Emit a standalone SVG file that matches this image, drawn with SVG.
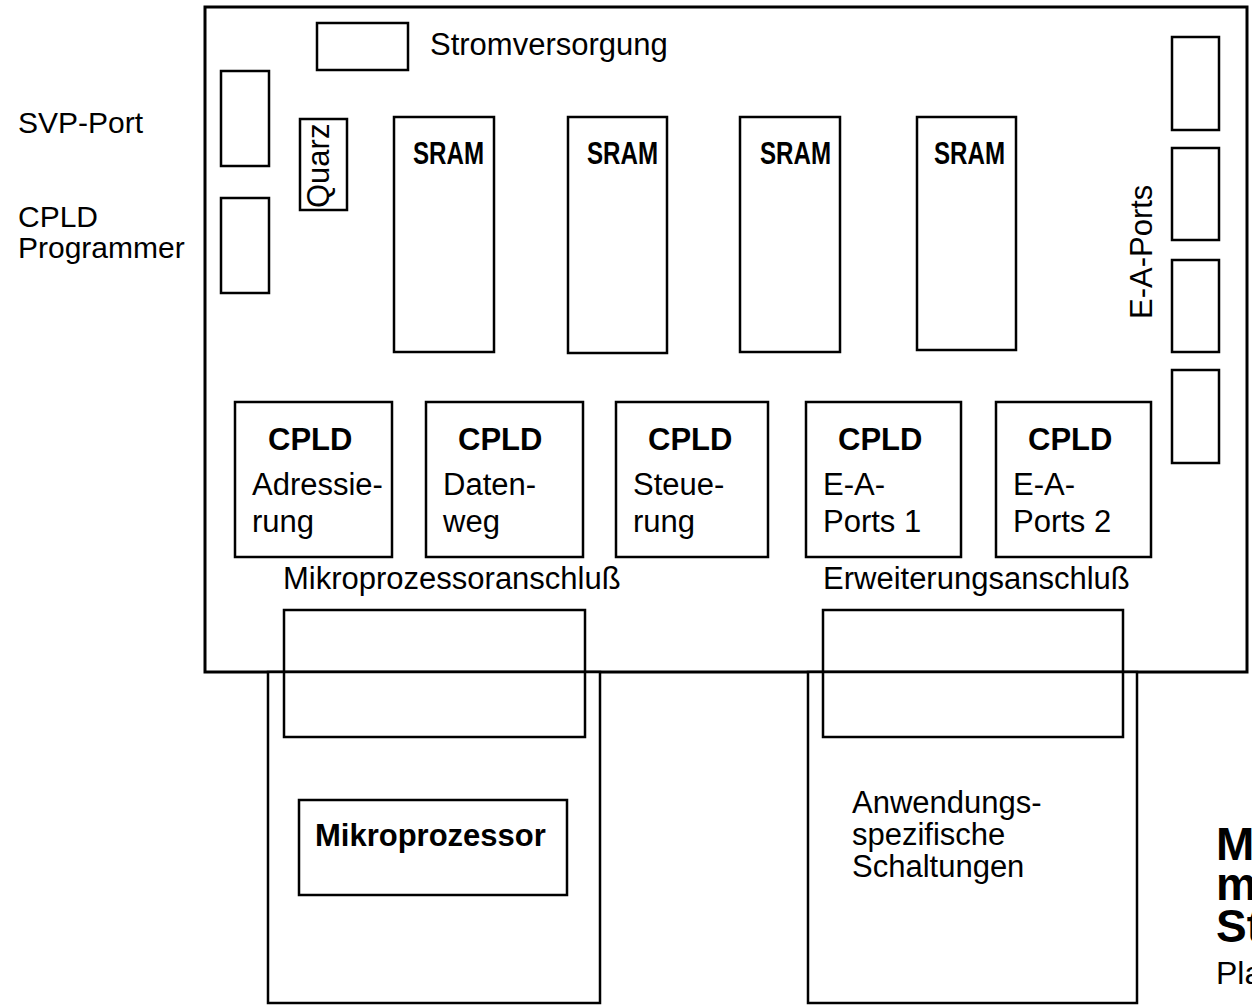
<svg xmlns="http://www.w3.org/2000/svg" width="1252" height="1008" viewBox="0 0 1252 1008">
<style>
.b{fill:#fff;stroke:#000;stroke-width:2.5}
.n{fill:none;stroke:#000;stroke-width:2.5}
.board{fill:#fff;stroke:#000;stroke-width:3}
text{font-family:"Liberation Sans",Arial,sans-serif;fill:#000}
.r{font-size:31px}
.l{font-size:30px}
.bd{font-size:31px;font-weight:bold}
.sr{font-size:32px;font-weight:bold}
</style>
<g id="board"><rect class="board" x="205" y="7" width="1042" height="665"/></g>
<g id="card-mikroprozessor">
<rect class="b" x="268" y="672" width="332" height="331"/>
<rect class="n" x="299" y="800" width="268" height="95"/>
<text class="bd" x="315" y="846">Mikroprozessor</text>
</g>
<g id="card-anwendung">
<rect class="b" x="808" y="672" width="329" height="331"/>
<text class="r" x="852" y="813">Anwendungs-</text>
<text class="r" x="852" y="845">spezifische</text>
<text class="r" x="852" y="877">Schaltungen</text>
</g>
<g id="stromversorgung">
<rect class="n" x="317" y="23" width="91" height="47"/>
<text class="r" x="430" y="55">Stromversorgung</text>
</g>
<g id="svp-port">
<rect class="n" x="221" y="71" width="48" height="95"/>
<text class="l" x="18" y="133">SVP-Port</text>
</g>
<g id="cpld-programmer">
<rect class="n" x="221" y="198" width="48" height="95"/>
<text class="l" x="18" y="227">CPLD</text>
<text class="l" x="18" y="258">Programmer</text>
</g>
<g id="quarz">
<rect class="n" x="300" y="119" width="47" height="91"/>
<text class="r" transform="translate(329,208) rotate(-90)">Quarz</text>
</g>
<g id="sram1"><rect class="n" x="394" y="117" width="100" height="235"/><text class="sr" x="413" y="164" textLength="71" lengthAdjust="spacingAndGlyphs">SRAM</text></g>
<g id="sram2"><rect class="n" x="568" y="117" width="99" height="236"/><text class="sr" x="587" y="164" textLength="71" lengthAdjust="spacingAndGlyphs">SRAM</text></g>
<g id="sram3"><rect class="n" x="740" y="117" width="100" height="235"/><text class="sr" x="760" y="164" textLength="71" lengthAdjust="spacingAndGlyphs">SRAM</text></g>
<g id="sram4"><rect class="n" x="917" y="117" width="99" height="233"/><text class="sr" x="934" y="164" textLength="71" lengthAdjust="spacingAndGlyphs">SRAM</text></g>
<g id="ea-ports">
<rect class="n" x="1172" y="37" width="47" height="93"/>
<rect class="n" x="1172" y="148" width="47" height="92"/>
<rect class="n" x="1172" y="260" width="47" height="92"/>
<rect class="n" x="1172" y="370" width="47" height="93"/>
<text class="r" transform="translate(1152,319) rotate(-90)">E-A-Ports</text>
</g>
<g id="cpld1"><rect class="n" x="235" y="402" width="157" height="155"/><text class="bd" x="268" y="450">CPLD</text><text class="r" x="252" y="495">Adressie-</text><text class="r" x="252" y="532">rung</text></g>
<g id="cpld2"><rect class="n" x="426" y="402" width="157" height="155"/><text class="bd" x="458" y="450">CPLD</text><text class="r" x="443" y="495">Daten-</text><text class="r" x="443" y="532">weg</text></g>
<g id="cpld3"><rect class="n" x="616" y="402" width="152" height="155"/><text class="bd" x="648" y="450">CPLD</text><text class="r" x="633" y="495">Steue-</text><text class="r" x="633" y="532">rung</text></g>
<g id="cpld4"><rect class="n" x="806" y="402" width="155" height="155"/><text class="bd" x="838" y="450">CPLD</text><text class="r" x="823" y="495">E-A-</text><text class="r" x="823" y="532">Ports 1</text></g>
<g id="cpld5"><rect class="n" x="996" y="402" width="155" height="155"/><text class="bd" x="1028" y="450">CPLD</text><text class="r" x="1013" y="495">E-A-</text><text class="r" x="1013" y="532">Ports 2</text></g>
<g id="mp-anschluss">
<text class="r" x="283" y="589">Mikroprozessoranschluß</text>
<rect class="n" x="284" y="610" width="301" height="127"/>
</g>
<g id="erw-anschluss">
<text class="r" x="823" y="589">Erweiterungsanschluß</text>
<rect class="n" x="823" y="610" width="300" height="127"/>
</g>
<g id="connectors"></g>
<g id="title">
<text x="1216" y="860" style="font-size:46px;font-weight:bold">M</text>
<text x="1216" y="900" style="font-size:46px;font-weight:bold">m</text>
<text x="1216" y="942" style="font-size:46px;font-weight:bold">St</text>
<text x="1216" y="984" style="font-size:32px">Pla</text>
</g>
</svg>
